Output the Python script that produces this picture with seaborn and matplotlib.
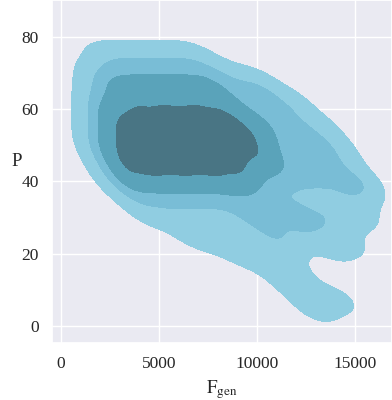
import numpy as np
import pandas as pd
import matplotlib
matplotlib.use("Agg")
import matplotlib.pyplot as plt
import seaborn as sns

# hand-placed sample points (F_gen, P) approximating the density in the reference
f_gen = [
    2000, 3000, 4000, 5000, 6000, 7000,
    1500, 2500, 3500, 4500, 5500, 6500, 7500, 8500,
    1500, 2500, 3500, 4500, 5500, 6500, 7500, 8500, 9500, 10500,
    1500, 2500, 3500, 4500, 5500, 6500, 7500, 8500, 9500, 10500, 11500,
    1500, 2500, 3500, 4500, 5500, 6500, 7500, 8500, 9500, 10500, 11500, 12500,
    1500, 2500, 3500, 4500, 5500, 6500, 7500, 8500, 9500, 10500, 11500, 12500, 13500,
    2000, 3000, 4000, 5000, 6000, 7000, 8000, 9000, 10000, 11000, 12000, 13000, 14000,
    2500, 3500, 4500, 5500, 6500, 7500, 8500, 9500, 10500, 11500, 12500, 13500, 14500,
    3500, 4500, 5500, 6500, 7500, 8500, 9500, 10500, 12000, 13500, 15000,
    4500, 6000, 7500, 9000, 10500, 12000, 13500,
    6500, 8500, 10500, 12500,
    9000, 11500,
    11500, 12500, 13500, 14500, 13000,
    # lower-right skirt
    15500, 15500, 14500, 15000, 14000, 10500, 12000, 15500,
    7500, 9500, 11500, 13500, 12000, 10000,
    10000, 12000, 13500, 14500,
    # denser core
    3000, 4500, 6000, 7500,
    2500, 4000, 5500, 7000, 8500,
    2500, 4000, 5500, 7000, 8500, 10000,
    2500, 4000, 5500, 7000, 8500, 10000,
    3000, 4500, 6000, 7500, 9000, 10500,
    3500, 5000, 6500, 8000, 9500,
]
p_val = [
    75, 75, 75, 75, 75, 75,
    70, 70, 70, 70, 70, 70, 70, 70,
    65, 65, 65, 65, 65, 65, 65, 65, 65, 65,
    60, 60, 60, 60, 60, 60, 60, 60, 60, 60, 60,
    55, 55, 55, 55, 55, 55, 55, 55, 55, 55, 55, 55,
    50, 50, 50, 50, 50, 50, 50, 50, 50, 50, 50, 50, 50,
    45, 45, 45, 45, 45, 45, 45, 45, 45, 45, 45, 45, 45,
    40, 40, 40, 40, 40, 40, 40, 40, 40, 40, 40, 40, 40,
    35, 35, 35, 35, 35, 35, 35, 35, 35, 35, 35,
    30, 30, 30, 30, 30, 30, 30,
    25, 25, 25, 25,
    20, 20,
    12, 8, 7, 7, 4,
    40, 30, 30, 22, 20, 17, 14, 38,
    24, 22, 24, 27, 30, 30,
    68, 62, 55, 48,
    66, 66, 66, 66,
    60, 60, 60, 60, 60,
    55, 55, 55, 55, 55, 55,
    50, 50, 50, 50, 50, 50,
    45, 45, 45, 45, 45, 45,
    40, 40, 40, 40, 40,
]

x_ticks = [0, 5000, 10000, 15000]
y_ticks = [0, 20, 40, 60, 80]
band_colors = ["#90cde1", "#79bdd6", "#5aa3ba", "#497584"]

df = pd.DataFrame({"F_gen": f_gen, "P": p_val})

sns.set_theme(style="darkgrid")
plt.rcParams["font.family"] = ["Liberation Serif", "DejaVu Serif"]
plt.rcParams["mathtext.fontset"] = "stix"

fig = plt.figure(figsize=(3.92, 4.0), dpi=100)
ax = fig.add_axes([52 / 392, 57 / 400, 340 / 392, 343 / 400])

sns.kdeplot(data=df, x="F_gen", y="P", fill=True, levels=5, thresh=0.05,
            bw_adjust=0.55, cmap="Blues", ax=ax)
# one colour per density band, in band order
cset = ax.collections[-1]
cset.set_array(None)
cset.set_facecolor(band_colors)

ax.set_xlim(-460, 16870)
ax.set_ylim(-4.7, 90.1)
ax.set_xticks(x_ticks)
ax.set_yticks(y_ticks)
ax.tick_params(labelsize=12.5)
ax.set_xlabel(r"$\mathrm{F}_{\mathrm{gen}}$", fontsize=13.5)
ax.set_ylabel("P", fontsize=13.5, rotation=0, va="center", ha="center")
ax.yaxis.set_label_coords(-0.104, 0.528)

fig.savefig("out.png", dpi=100)
